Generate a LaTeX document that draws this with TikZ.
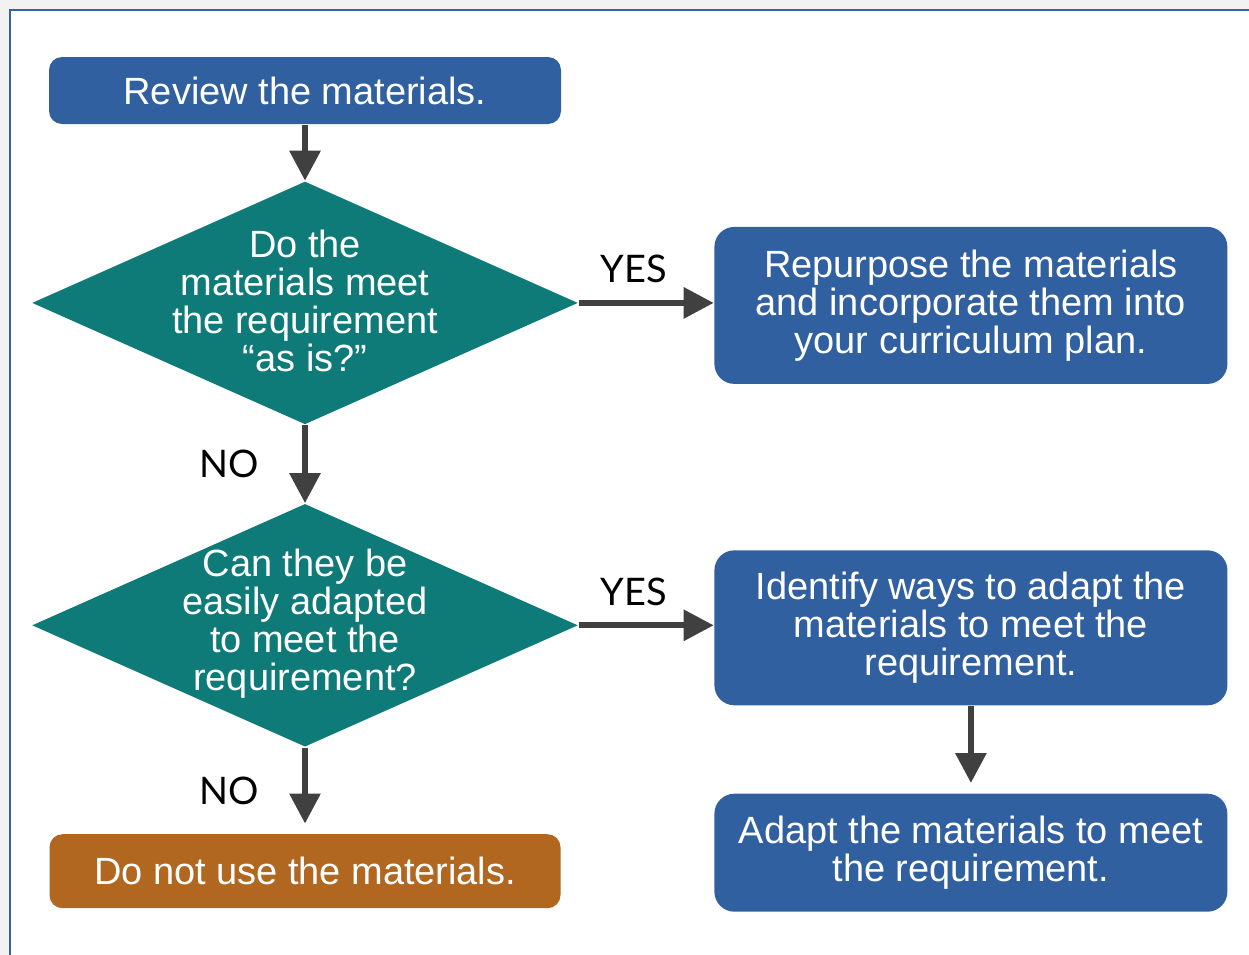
\documentclass[tikz,border=0pt]{standalone}
\usepackage{fontspec}
\setmainfont{Liberation Sans}
\newfontfamily\answerfont{Lato}
\usetikzlibrary{positioning, shapes.geometric, arrows.meta}

\definecolor{boxblue}{RGB}{49,96,161}
\definecolor{diamondteal}{RGB}{14,123,120}
\definecolor{stoporange}{RGB}{177,103,32}
\definecolor{arrowgray}{RGB}{64,64,64}
\definecolor{frameblue}{RGB}{52,98,172}
\definecolor{pagegray}{RGB}{242,242,242}

\tikzset{
    box/.style={rectangle, rounded corners=0.2cm, fill=boxblue, text=white, align=center,
        minimum width=5.13cm, inner sep=0pt, font=\fontsize{10.8pt}{10.8pt}\selectfont},
    decision/.style={diamond, fill=diamondteal, minimum width=5.46cm, minimum height=2.43cm, inner sep=0pt},
    decisiontext/.style={text=white, align=center, inner sep=0pt, font=\fontsize{10.8pt}{10.8pt}\selectfont},
    flow/.style={-{Triangle[width=0.3cm, length=0.3cm]}, line width=0.06cm, draw=arrowgray},
    answer/.style={font=\answerfont\fontsize{10.8pt}{10.8pt}\selectfont, inner sep=0pt}
}

\begin{document}
\begin{tikzpicture}
        \useasboundingbox (0,0) rectangle (12.49,-9.55);
        \begin{scope}
            \clip (0,0) rectangle (12.49,-9.55);
            \fill [pagegray] (0,0) rectangle (12.49,-9.55);
            \filldraw [fill=white, draw=frameblue, line width=0.02cm] (0.10,-0.10) rectangle (12.70,-9.80);
        \end{scope}

        \node [box, rounded corners=0.13cm, minimum height=0.67cm, minimum width=5.12cm] (review) at (3.05,-0.905) {Review the materials.};
        \node [decision, below=0.56cm of review] (asis) {};
        \node [decisiontext] (asistext) at ([yshift=0.02cm]asis.center) {Do the\\materials meet\\the requirement\\“as is?”};
        \node [box, minimum height=1.57cm, right=1.35cm of asis, yshift=-0.025cm] (repurpose) {Repurpose the materials\\and incorporate them into\\your curriculum plan.};
        \node [decision, below=0.78cm of asis] (easy) {};
        \node [decisiontext] (easytext) at ([yshift=0.02cm]easy.center) {Can they be\\easily adapted\\to meet the\\requirement?};
        \node [box, minimum height=1.55cm, right=1.35cm of easy, yshift=-0.025cm] (identify) {Identify ways to adapt the\\materials to meet the\\requirement.};
        \node [box, minimum height=1.18cm, below=0.87cm of identify] (adapt) {Adapt the materials to meet\\the requirement.};
        \node [box, rounded corners=0.13cm, fill=stoporange, minimum height=0.74cm, minimum width=5.11cm, below=0.86cm of easy] (nouse) {Do not use the materials.};

        \draw [flow] (review) -- (asis.north);
        \draw [flow] (asis.east) -- node [answer, pos=0.41, above=0.17cm] (yes1) {YES} (asis.east -| repurpose.west);
        \draw [flow] (asis.south) -- node [answer, left=0.43cm] (no1) {NO} (easy.north);
        \draw [flow] (easy.east) -- node [answer, pos=0.41, above=0.17cm] (yes2) {YES} (easy.east -| identify.west);
        \draw [flow, shorten >=0.1cm] (easy.south) -- node [answer, left=0.43cm] (no2) {NO} (nouse.north);
        \draw [flow, shorten >=0.1cm] (identify) -- (adapt);
    \end{tikzpicture}
\end{document}
